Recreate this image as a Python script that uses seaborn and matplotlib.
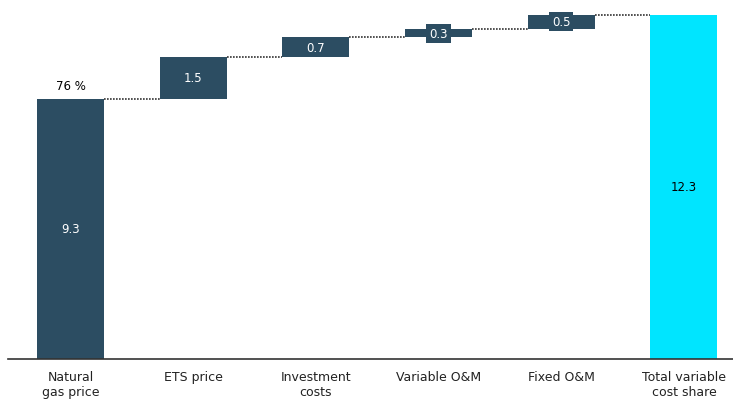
import numpy as np
import seaborn as sns
import matplotlib.pyplot as plt

# Data
categories = ["Natural\ngas price", "ETS price", "Investment\ncosts",
              "Variable O&M", "Fixed O&M", "Total variable\ncost share"]
steps = [9.3, 1.5, 0.7, 0.3, 0.5]
total = 12.3
share_label = "76 %"

heights = steps + [total]
bottoms = list(np.concatenate([[0], np.cumsum(steps)[:-1]])) + [0]
colors = ["#2C4D62"] * len(steps) + ["#00E5FF"]

sns.set_style("white")
plt.rcParams["font.family"] = ["DejaVu Sans"]

fig = plt.figure(figsize=(7.33, 4.02), dpi=100)
ax = fig.add_axes([0.011, 0.1045, 0.989, 0.8706])

sns.barplot(x=categories, y=heights, color=colors[0], width=0.547,
            errorbar=None, saturation=1, ax=ax)

# shift bars to their waterfall position
for patch, b, c in zip(ax.patches, bottoms, colors):
    patch.set_y(b)
    patch.set_facecolor(c)
    patch.set_edgecolor("none")

# connector lines
half = 0.547 / 2
levels = np.cumsum(steps)
for i, lvl in enumerate(levels):
    ax.plot([i + half, i + 1 - half], [lvl, lvl], color="#333333",
            linestyle=(0, (1, 0.8)), lw=1.2)

# value labels
for i, (h, b) in enumerate(zip(heights, bottoms)):
    mid = b + h / 2
    if i == len(heights) - 1:
        ax.text(i, mid, f"{h:.1f}", ha="center", va="center", fontsize=8.5, color="black")
    elif h < 0.6:
        ax.text(i, mid, f"{h:.1f}", ha="center", va="center", fontsize=8.5, color="white",
                bbox=dict(boxstyle="square,pad=0.25", fc=colors[i], ec="none"))
    else:
        ax.text(i, mid, f"{h:.1f}", ha="center", va="center", fontsize=8.5, color="white")

ax.text(0, steps[0] + 0.25, share_label, ha="center", va="bottom", fontsize=8.5, color="black")

ax.set_xlim(-0.51, 5.40)
ax.set_ylim(0, 12.51)
ax.set_yticks([])
ax.tick_params(axis="x", length=0, pad=8, labelsize=9, colors="#222222")
sns.despine(ax=ax, left=True)
ax.spines["bottom"].set_color("#333333")
ax.spines["bottom"].set_linewidth(1.2)

fig.savefig("out.png", dpi=100)
